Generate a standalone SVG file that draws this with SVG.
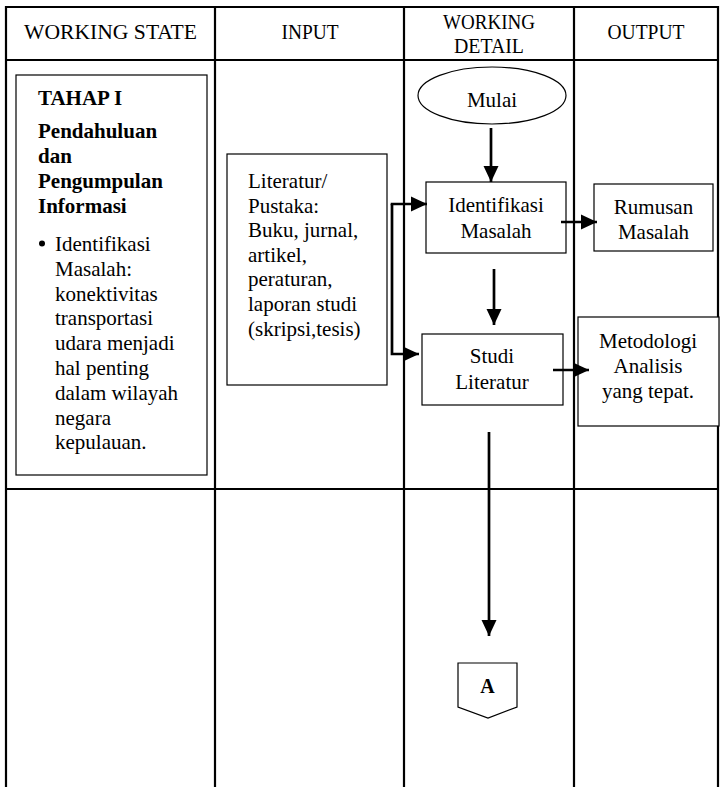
<svg xmlns="http://www.w3.org/2000/svg" width="721" height="787" viewBox="0 0 721 787" font-family="'Liberation Serif', 'DejaVu Serif', serif">
  <defs>
    <marker id="arrow" viewBox="0 0 16 16" refX="16" refY="8" markerWidth="16" markerHeight="16" markerUnits="userSpaceOnUse" orient="auto">
      <path d="M0,0.5 L16,8 L0,15.5 Z" fill="#000"/>
    </marker>
    <style>
      text { font-family: 'Liberation Serif', 'DejaVu Serif', serif; fill: #000; }
      .hd { font-size: 21px; text-anchor: middle; }
      .tx { font-size: 21px; }
      .c { text-anchor: middle; }
      .b { font-weight: bold; }
      .grid { stroke: #000; stroke-width: 2.2; fill: none; }
      .box { stroke: #000; stroke-width: 1.2; fill: #fff; }
      .flow { stroke: #000; stroke-width: 2.7; fill: none; }
    </style>
  </defs>
  <rect width="721" height="787" fill="#fff"/>

  <!-- table grid: header row, stage row, continuation row -->
  <g id="table">
    <path class="grid" d="M6,787 V7 H718 V787 M6,60 H718 M6,489 H718 M215,7 V787 M404,7 V787 M574,7 V787"/>
    <text class="hd" x="110.5" y="39" textLength="173" lengthAdjust="spacingAndGlyphs">WORKING STATE</text>
    <text class="hd" x="310" y="39" textLength="57" lengthAdjust="spacingAndGlyphs">INPUT</text>
    <text class="hd" x="489" y="29" textLength="92" lengthAdjust="spacingAndGlyphs">WORKING</text>
    <text class="hd" x="489" y="52.5" textLength="70" lengthAdjust="spacingAndGlyphs">DETAIL</text>
    <text class="hd" x="646" y="39" textLength="77" lengthAdjust="spacingAndGlyphs">OUTPUT</text>
  </g>

  <!-- stage description -->
  <g id="stage">
    <rect class="box" x="16" y="75" width="191" height="400"/>
    <text class="tx b" x="38" y="105">TAHAP I</text>
    <text class="tx b" x="38" y="138">Pendahuluan</text>
    <text class="tx b" x="38" y="163">dan</text>
    <text class="tx b" x="38" y="188">Pengumpulan</text>
    <text class="tx b" x="38" y="213">Informasi</text>
    <circle cx="42" cy="243.5" r="3" fill="#000"/>
    <text class="tx" x="55">
      <tspan x="55" y="251">Identifikasi</tspan>
      <tspan x="55" y="275.8">Masalah:</tspan>
      <tspan x="55" y="300.6">konektivitas</tspan>
      <tspan x="55" y="325.4">transportasi</tspan>
      <tspan x="55" y="350.2">udara menjadi</tspan>
      <tspan x="55" y="375">hal penting</tspan>
      <tspan x="55" y="399.8">dalam wilayah</tspan>
      <tspan x="55" y="424.6">negara</tspan>
      <tspan x="55" y="449.4">kepulauan.</tspan>
    </text>
  </g>

  <!-- input -->
  <g id="input">
    <rect class="box" x="227" y="154" width="160" height="231"/>
    <text class="tx" x="248">
      <tspan x="248" y="188">Literatur/</tspan>
      <tspan x="248" y="212.6">Pustaka:</tspan>
      <tspan x="248" y="237.2">Buku, jurnal,</tspan>
      <tspan x="248" y="261.8">artikel,</tspan>
      <tspan x="248" y="286.4">peraturan,</tspan>
      <tspan x="248" y="311">laporan studi</tspan>
      <tspan x="248" y="335.6">(skripsi,tesis)</tspan>
    </text>
  </g>

  <!-- working detail -->
  <g id="mulai">
    <ellipse class="box" cx="492" cy="95.5" rx="74" ry="28.5"/>
    <text class="tx c" x="492" y="107">Mulai</text>
  </g>
  <g id="identifikasi">
    <rect class="box" x="426" y="182" width="140" height="71"/>
    <text class="tx c" x="496" y="212">Identifikasi</text>
    <text class="tx c" x="496" y="238">Masalah</text>
  </g>
  <g id="studi">
    <rect class="box" x="422" y="334" width="141" height="71"/>
    <text class="tx c" x="492" y="363">Studi</text>
    <text class="tx c" x="492" y="389">Literatur</text>
  </g>
  <g id="connector-a">
    <path class="box" d="M458,663 H517 V707 L488,718 L458,707 Z"/>
    <text class="c b" x="487.5" y="693" font-size="20">A</text>
  </g>

  <!-- output -->
  <g id="rumusan">
    <rect class="box" x="594" y="184" width="119" height="67"/>
    <text class="tx c" x="653.5" y="214">Rumusan</text>
    <text class="tx c" x="653.5" y="239">Masalah</text>
  </g>
  <g id="metodologi">
    <rect class="box" x="578" y="317" width="141" height="109"/>
    <text class="tx c" x="648" y="348">Metodologi</text>
    <text class="tx c" x="648" y="373">Analisis</text>
    <text class="tx c" x="648" y="398">yang tepat.</text>
  </g>

  <!-- connectors -->
  <g id="connectors">
    <path class="flow" d="M392,204 V354 H419" marker-end="url(#arrow)"/>
    <path class="flow" d="M390.7,204 H427" marker-end="url(#arrow)"/>
    <path class="flow" d="M491,128 V182" marker-end="url(#arrow)"/>
    <path class="flow" d="M494,269 V325" marker-end="url(#arrow)"/>
    <path class="flow" d="M561,222 H597" marker-end="url(#arrow)"/>
    <path class="flow" d="M553,370 H589" marker-end="url(#arrow)"/>
    <path class="flow" d="M489,432 V636" marker-end="url(#arrow)"/>
  </g>
</svg>
